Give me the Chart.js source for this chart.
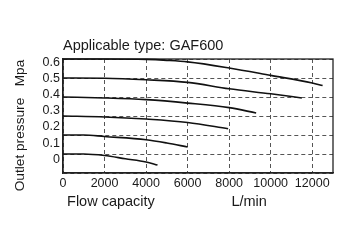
<!DOCTYPE html>
<html>
<head>
<meta charset="utf-8">
<script src="https://cdn.jsdelivr.net/npm/chart.js@4"></script>
<style>
  html, body { margin: 0; padding: 0; background: #fff; }
  canvas { display: block; }
</style>
</head>
<body>
<canvas id="chart" width="350" height="240"></canvas>
<script>
// tick labels
const flowTicks = [0, 2000, 4000, 6000, 8000, 10000, 12000];
const pressureTicks = [0, 0.1, 0.2, 0.3, 0.4, 0.5, 0.6];

// one curve per set pressure (L/min -> MPa)
const flow06 = [0, 2000, 4000, 5000, 6000, 8000, 10000, 12000, 12500];
const pres06 = [0.6, 0.6, 0.598, 0.593, 0.585, 0.553, 0.514, 0.474, 0.46];
const flow05 = [0, 2000, 4000, 6000, 8000, 10000, 11500];
const pres05 = [0.5, 0.499, 0.491, 0.477, 0.443, 0.417, 0.395];
const flow04 = [0, 2000, 4000, 6000, 8000, 9300];
const pres04 = [0.4, 0.395, 0.386, 0.368, 0.344, 0.316];
const flow03 = [0, 2000, 4000, 6000, 7950];
const pres03 = [0.3, 0.295, 0.284, 0.266, 0.233];
const flow02 = [0, 1000, 2000, 4000, 5000, 6000];
const pres02 = [0.2, 0.2, 0.192, 0.175, 0.158, 0.137];
const flow01 = [0, 1000, 2000, 3000, 4000, 4550];
const pres01 = [0.1, 0.1, 0.092, 0.075, 0.058, 0.042];

const curves = [
    [flow06, pres06], [flow05, pres05], [flow04, pres04],
    [flow03, pres03], [flow02, pres02], [flow01, pres01]
];

const FONT = 'Liberation Sans, Arial, Helvetica, sans-serif';
const TXT = '#1a1a1a';

// top and right sides of the plot frame
const frame = {
    id: 'frame',
    beforeDatasetsDraw(chart) {
        const a = chart.chartArea, c = chart.ctx;
        c.save();
        c.strokeStyle = '#222';
        c.lineWidth = 1.3;
        c.strokeRect(a.left, a.top, a.right - a.left, a.bottom - a.top);
        c.restore();
    }
};

new Chart(document.getElementById('chart').getContext('2d'), {
    type: 'line',
    data: {
        datasets: curves.map(([xs, ys]) => ({
            data: xs.map((x, i) => ({ x: x, y: ys[i] })),
            borderColor: '#111',
            borderWidth: 1.6,
            pointRadius: 0,
            cubicInterpolationMode: 'monotone',
            clip: false
        }))
    },
    options: {
        responsive: false,
        animation: false,
        layout: { padding: { left: 0, right: 17, top: 0, bottom: 0 } },
        plugins: {
            legend: { display: false },
            tooltip: { enabled: false },
            title: {
                display: true,
                text: 'Applicable type: GAF600',
                align: 'start',
                fullSize: false,
                color: TXT,
                font: { family: FONT, size: 14.5, weight: 'normal' },
                padding: { top: 37, bottom: 4.6 }
            }
        },
        scales: {
            x: {
                type: 'linear',
                min: 0,
                max: 13000,
                afterBuildTicks: s => { s.ticks = flowTicks.map(v => ({ value: v })); },
                afterFit: s => { s.height = 67; },
                ticks: {
                    callback: v => String(v),
                    color: TXT,
                    font: { family: FONT, size: 12.5 },
                    padding: 3,
                    maxRotation: 0,
                    autoSkip: false
                },
                grid: { color: '#555', lineWidth: 1, drawTicks: false },
                border: { color: '#222', width: 1.3, dash: [4, 3] },
                title: {
                    display: true,
                    align: 'start',
                    text: ' Flow capacity                   L/min',
                    color: TXT,
                    font: { family: FONT, size: 14.5 },
                    padding: { top: 0, bottom: 29 }
                }
            },
            y: {
                min: 0,
                max: 0.6,
                weight: 0,
                afterBuildTicks: s => { s.ticks = pressureTicks.map(v => ({ value: v })); },
                afterFit: s => { s.width = 0; },
                ticks: { display: false },
                grid: { color: '#555', lineWidth: 1, drawTicks: false },
                border: { color: '#222', width: 1.3, dash: [4, 3] }
            },
            // label axis: the printed labels sit a little off the grid in the original
            yl: {
                position: 'left',
                weight: 1,
                min: -0.084,
                max: 0.62,
                afterBuildTicks: s => { s.ticks = pressureTicks.map(v => ({ value: v })); },
                afterFit: s => { s.width = 63; },
                ticks: {
                    callback: v => String(v),
                    color: TXT,
                    font: { family: FONT, size: 12.5 },
                    padding: 3
                },
                grid: { display: false, drawTicks: false },
                border: { display: false },
                title: {
                    display: true,
                    text: 'Outlet pressure   Mpa     ',
                    color: TXT,
                    font: { family: FONT, size: 13.7 },
                    padding: { top: 11.8, bottom: 0 }
                }
            }
        }
    },
    plugins: [frame]
});
</script>
</body>
</html>
